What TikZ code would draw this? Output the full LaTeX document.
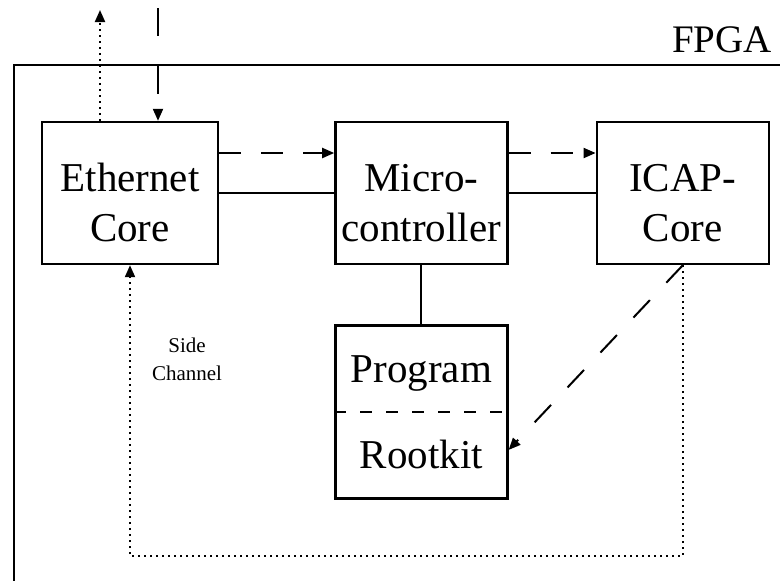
\documentclass[tikz,border=0pt]{standalone}
\usepackage{fontspec}
\setmainfont{Liberation Serif}
\usetikzlibrary{positioning,arrows.meta}
\newcommand{\lowtext}{\rule{0pt}{24pt}}

\begin{document}
\begin{tikzpicture}[x=0.5pt, y=-0.5pt, >={Triangle[length=6pt,width=5pt]},
  block/.style={draw, line width=1.2pt, minimum width=86pt, minimum height=71pt,
    align=center, inner sep=0pt, font=\fontsize{20.5}{25}\selectfont},
  link/.style={line width=1pt},
  flow/.style={line width=1pt, dash pattern=on 11pt off 10pt, ->},
  side/.style={line width=1pt, dotted, ->}]
  \useasboundingbox (0,0) rectangle (780,580);
  % FPGA frame
  \draw[line width=0.8pt] (14,590) -- (14,65) -- (790,65);
  \node[font=\fontsize{19.5}{22}\selectfont] (fpga) at (722,40) {FPGA};

  \node[block, minimum width=88pt] (eth) at (130,193) {\lowtext Ethernet\\Core};
  \node[block, right=57.5pt of eth] (micro) {\lowtext Micro-\\controller};
  \node[block, right=43.5pt of micro] (icap) {\lowtext ICAP-\\Core};
  \node[block, minimum height=86.5pt, below=29.5pt of micro,
    font=\fontsize{20.5}{23}\selectfont] (prog) {Program\\[20pt]Rootkit};
  \draw[line width=0.8pt, dash pattern=on 6pt off 7pt] (prog.west) -- (prog.east);

  \node[font=\fontsize{10.5}{14}\selectfont, align=center] (sidelbl) at (187,359) {Side\\Channel};

  \coordinate (netout) at (100,10);
  \coordinate (netin) at (158,8);

  \draw[link] (eth) -- (micro);
  \draw[link] (micro) -- (icap);
  \draw[link] (micro) -- (prog);
  \draw[flow] ([yshift=20pt]eth.east) -- ([yshift=20pt]micro.west);
  \draw[flow] ([yshift=20pt]micro.east) -- ([yshift=20pt]icap.west);
  \draw[flow, dash pattern=on 12pt off 12pt] (icap.south) -- ([yshift=-19pt]prog.east);
  \draw[side] (icap.south) -- ++(0,291) -| (eth.south);
  \draw[side] (eth.north -| netout) -- (netout);
  \draw[flow, dash pattern=on 14pt off 15pt] (netin) -- (eth.north -| netin);
\end{tikzpicture}
\end{document}
